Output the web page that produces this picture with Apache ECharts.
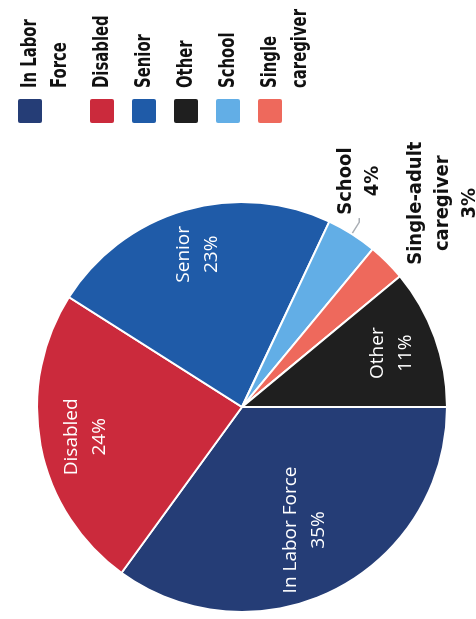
<!DOCTYPE html>
<html>
<head>
<meta charset="utf-8">
<script src="https://cdn.jsdelivr.net/npm/echarts@6/dist/echarts.min.js"></script>
<style>
  html, body { margin: 0; padding: 0; width: 476px; height: 619px; overflow: hidden; background: #fff; }
  /* The chart is laid out landscape and turned a quarter-turn counter-clockwise */
  #stage {
    position: absolute; left: 0; top: 0;
    width: 619px; height: 476px;
    transform-origin: 0 0;
    transform: translateY(619px) rotate(-90deg);
  }
</style>
</head>
<body>
<div id="stage"></div>
<script>
// Slices in drawing order (clockwise)
const categories = ['In Labor Force', 'Disabled', 'Senior', 'School', 'Single caregiver', 'Other'];
const shares = [35, 24, 23, 4, 3, 11];
const sliceLabels = ['In Labor Force', 'Disabled', 'Senior', 'School', 'Single-adult\ncaregiver', 'Other'];

// Legend entries in their own order
const legendCategories = ['In Labor Force', 'Disabled', 'Senior', 'Other', 'School', 'Single caregiver'];
const legendTexts = ['In Labor\nForce', 'Disabled', 'Senior', 'Other', 'School', 'Single\ncaregiver'];

const palette = {
  'In Labor Force': '#253d76',
  'Disabled': '#cb2a3c',
  'Senior': '#1f5ba8',
  'Other': '#1f1f1f',
  'School': '#62aee6',
  'Single caregiver': '#ee695c'
};

const narrowFont = "'Liberation Sans Narrow', 'Arial Narrow', 'DejaVu Sans Condensed', sans-serif";
const bodyFont = "'Open Sans', 'Noto Sans', sans-serif";

const CENTER = [212, 242];
const R = 205;

// Which slices carry which kind of label
const deepInside = ['In Labor Force'];
const nearRim = ['Disabled', 'Senior', 'Other'];

function pct(i) { return shares[i] + '%'; }

const chart = echarts.init(document.getElementById('stage'), null, { renderer: 'canvas' });

// Main pie: filled slices plus the two small-slice callouts outside the rim
const mainData = categories.map((c, i) => {
  const item = { name: c, value: shares[i], itemStyle: { color: palette[c] } };
  if (c === 'School') {
    item.label = {
      show: true,
      formatter: '{t|' + sliceLabels[i] + '}\n{t|' + pct(i) + '}'
    };
    item.labelLine = { show: true, length: 14, length2: 4, lineStyle: { color: '#a9aeb4', width: 1.5 } };
  } else if (c === 'Single caregiver') {
    item.label = {
      show: true,
      formatter: sliceLabels[i] + '\n' + pct(i)
    };
    item.labelLine = { show: false, length: 79, length2: 0 };
  }
  return item;
});

// Label-only rings: an inside label sits halfway across its ring
function labelRing(inner, names) {
  return {
    type: 'pie',
    center: CENTER,
    radius: [inner, R],
    startAngle: 270,
    clockwise: true,
    silent: true,
    avoidLabelOverlap: false,
    itemStyle: { color: 'transparent', borderWidth: 0 },
    labelLine: { show: false },
    label: {
      show: true,
      position: 'inside',
      color: '#ffffff',
      fontFamily: bodyFont,
      fontSize: 19,
      lineHeight: 28,
      formatter: p => names.indexOf(p.name) >= 0 ? sliceLabels[p.dataIndex] + '\n' + pct(p.dataIndex) : ''
    },
    data: categories.map((c, i) => ({ name: c, value: shares[i] }))
  };
}

// Legend: colour swatch with the wrapped, condensed category name to its right
const legendGraphics = [];
let rowTop = 18;
legendCategories.forEach((c, i) => {
  const lines = legendTexts[i].split('\n').length;
  legendGraphics.push({
    type: 'rect',
    x: 496, y: rowTop,
    shape: { x: 0, y: 0, width: 24, height: 24, r: 2 },
    style: { fill: palette[c] },
    silent: true
  });
  legendGraphics.push({
    type: 'text',
    x: 531, y: rowTop - 3,
    scaleX: 0.75,
    style: {
      text: legendTexts[i],
      font: 'bold 22px ' + narrowFont,
      lineHeight: 30,
      fill: '#111111',
      verticalAlign: 'top'
    },
    silent: true
  });
  rowTop += lines * 30 + 12;
});

chart.setOption({
  animation: false,
  backgroundColor: '#ffffff',
  graphic: legendGraphics,
  series: [
    {
      type: 'pie',
      center: CENTER,
      radius: [0, R],
      startAngle: 270,
      clockwise: true,
      silent: true,
      avoidLabelOverlap: false,
      itemStyle: { borderColor: '#ffffff', borderWidth: 2 },
      label: {
        show: false,
        position: 'outside',
        color: '#111111',
        fontFamily: narrowFont,
        fontWeight: 'bold',
        fontSize: 20,
        lineHeight: 27,
        distanceToLabelLine: 3,
        rich: {
          t: { width: 68, align: 'center', fontFamily: narrowFont, fontWeight: 'bold', fontSize: 20, lineHeight: 27, color: '#111111' }
        }
      },
      labelLayout: p => (categories[p.dataIndex] === 'Single caregiver' ? { align: 'center' } : {}),
      data: mainData
    },
    labelRing(65, deepInside),
    labelRing(107, nearRim)
  ]
});
</script>
</body>
</html>
